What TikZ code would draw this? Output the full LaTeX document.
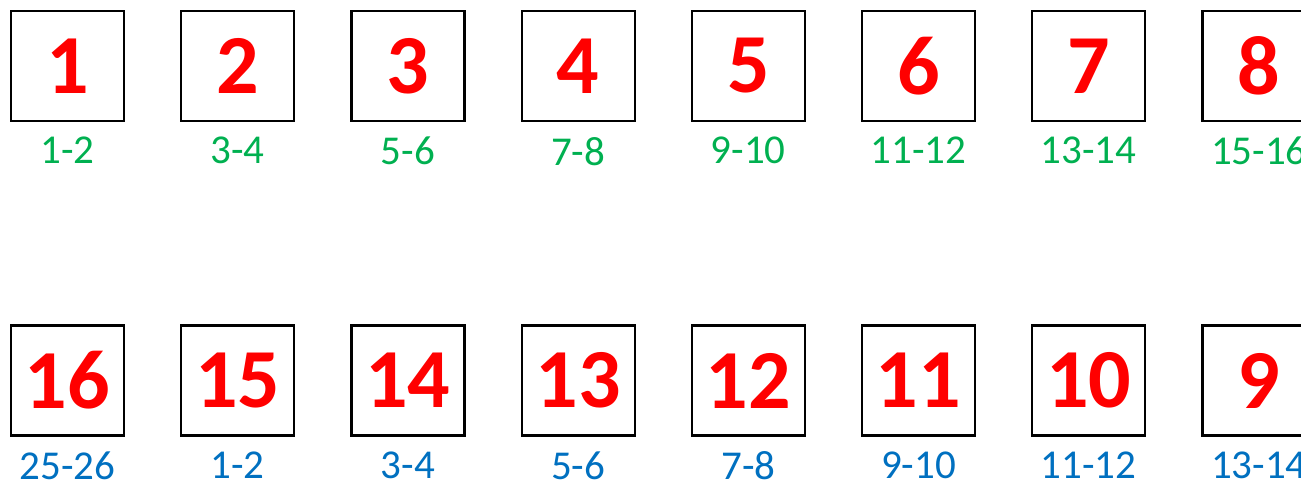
\documentclass[tikz,border=0pt]{standalone}
\usepackage{fontspec}
\setmainfont{Carlito}
\usetikzlibrary{positioning}

\definecolor{numred}{RGB}{255,0,0}
\definecolor{pairgreen}{RGB}{0,176,80}
\definecolor{pairblue}{RGB}{0,112,192}

\begin{document}
\begin{tikzpicture}[
    x=1pt, y=-1pt,
    node distance=55pt,
    slot/.style={
        rectangle,
        draw=black,
        line width=2.2pt,
        minimum width=113pt,
        minimum height=110pt,
        inner sep=0pt,
        text=numred,
        font=\fontsize{84}{84}\selectfont\bfseries
    },
    pair/.style={
        inner sep=0pt,
        font=\fontsize{41}{41}\selectfont
    },
    top pair/.style={
        pair,
        text=pairgreen
    },
    bottom pair/.style={
        pair,
        text=pairblue
    }
]
    \useasboundingbox (0,0) rectangle (1301,480);
    \clip (0,0) rectangle (1301,480);

    % Top row
    \node[slot] (s1) at (67.5,66) {1};
    \node[slot, right=of s1] (s2) {2};
    \node[slot, right=of s2] (s3) {3};
    \node[slot, right=of s3] (s4) {4};
    \node[slot, right=of s4] (s5) {5};
    \node[slot, right=of s5] (s6) {6};
    \node[slot, right=of s6] (s7) {7};
    \node[slot, right=of s7] (s8) {8};

    \node[top pair, below=15pt of s1] (p1) {1-2};
    \node[top pair, below=15pt of s2] (p2) {3-4};
    \node[top pair, below=15pt of s3] (p3) {5-6};
    \node[top pair, below=15pt of s4] (p4) {7-8};
    \node[top pair, below=15pt of s5] (p5) {9-10};
    \node[top pair, below=15pt of s6] (p6) {11-12};
    \node[top pair, below=15pt of s7] (p7) {13-14};
    \node[top pair, below=15pt of s8] (p8) {15-16};

    % Bottom row
    \node[slot] (s16) at (67.5,380.5) {16};
    \node[slot, right=of s16] (s15) {15};
    \node[slot, right=of s15] (s14) {14};
    \node[slot, right=of s14] (s13) {13};
    \node[slot, right=of s13] (s12) {12};
    \node[slot, right=of s12] (s11) {11};
    \node[slot, right=of s11] (s10) {10};
    \node[slot, right=of s10] (s9) {9};

    \node[bottom pair, below=15pt of s16] (p16) {25-26};
    \node[bottom pair, below=15pt of s15] (p15) {1-2};
    \node[bottom pair, below=15pt of s14] (p14) {3-4};
    \node[bottom pair, below=15pt of s13] (p13) {5-6};
    \node[bottom pair, below=15pt of s12] (p12) {7-8};
    \node[bottom pair, below=15pt of s11] (p11) {9-10};
    \node[bottom pair, below=15pt of s10] (p10) {11-12};
    \node[bottom pair, below=15pt of s9] (p9) {13-14};

\end{tikzpicture}
\end{document}
